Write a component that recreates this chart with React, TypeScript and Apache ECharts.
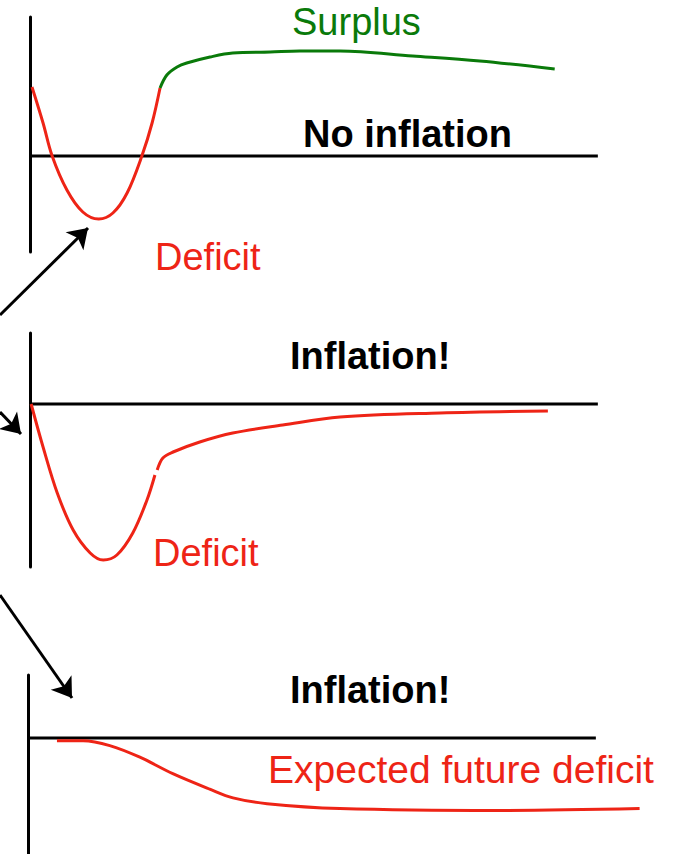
import React, { useEffect, useRef } from "react";
import * as echarts from "echarts";

// Panel 1: no inflation — deficit then surplus
const noInflationDeficit = [
  [0.35, 6.9], [2.3, 3.3], [3.9, 0], [6.5, -3.4], [9.3, -5.6], [12.1, -6.3],
  [14.6, -5.7], [17.1, -3.7], [19.7, 0], [21.5, 3.3], [22.9, 6.8],
];
const noInflationSurplus = [
  [22.9, 6.8], [24.1, 8.1], [25.9, 8.9], [27.6, 9.3], [31.7, 9.9], [35.7, 10.3],
  [42.3, 10.4], [47.5, 10.5], [54.6, 10.5], [67.4, 10.0], [79.2, 9.5], [92.4, 8.7],
];
// Panel 2: inflation — deficit without later surplus
const inflationDeficitFall = [
  [0.2, 0], [2.3, -4.3], [4.8, -8.9], [7.6, -12.6], [10.6, -14.9], [12.9, -15.6],
  [15.3, -15.1], [18.1, -12.9], [20.6, -9.6], [22.0, -7.1],
];
const inflationDeficitRecovery = [
  [22.4, -6.6], [23.4, -5.4], [25.2, -4.8], [29.9, -3.8], [35.7, -2.9],
  [44.5, -2.1], [54.6, -1.3], [72.2, -0.9], [91.2, -0.7],
];
// Panel 3: inflation — expected future deficit
const expectedFutureDeficit = [
  [5.1, -0.3], [9.7, -0.3], [14.4, -0.8], [19.7, -2.0], [25.5, -3.7], [32.0, -5.3],
  [36.1, -6.2], [42.1, -6.8], [54.9, -7.3], [82.6, -7.5], [107.7, -7.3],
];
const zeroLine = [[0, 0], [100, 0]];

const panelLabels = ["No inflation", "Inflation!", "Inflation!"];
const curveLabels = ["Surplus", "Deficit", "Deficit", "Expected future deficit"];

const RED = "#ee2416";
const GREEN = "#0a7a0a";
const FONT = '"Liberation Sans", Helvetica, Arial, sans-serif';
const FS = 38;

export default function App() {
  const ref = useRef<HTMLDivElement>(null);
  useEffect(() => {
    if (!ref.current) return;
    const chart = echarts.init(ref.current, undefined, { renderer: "svg" });

    const yRanges = [
      [-9.6, 13.9],
      [-16.3, 7.1],
      [-12, 6.5],
    ];
    const grids = [
      { left: 30, top: 17, width: 636, height: 235 },
      { left: 30, top: 333, width: 636, height: 234 },
      { left: 28, top: 675, width: 636, height: 185 },
      { left: 0, top: 0, width: 673, height: 854 },
    ];

    const curve = (idx: number, data: number[][], color: string) => ({
      type: "line",
      xAxisIndex: idx,
      yAxisIndex: idx,
      data,
      symbol: "none",
      smooth: 0.35,
      lineStyle: { color, width: 3 },
      z: 3,
    });
    const base = (idx: number) => ({
      type: "line",
      xAxisIndex: idx,
      yAxisIndex: idx,
      data: zeroLine,
      symbol: "none",
      lineStyle: { color: "#000", width: 3 },
      z: 2,
    });

    const text = (t: string, x: number, y: number, fill: string, bold = false, fs = FS) => ({
      type: "text",
      x,
      y,
      z: 10,
      style: {
        text: t,
        fill,
        fontSize: fs,
        fontFamily: FONT,
        fontWeight: bold ? "bold" : "normal",
        align: "left",
        verticalAlign: "middle",
      },
    });

    chart.setOption({
      animation: false,
      grid: grids,
      xAxis: [
        ...[0, 1, 2].map((i) => ({ type: "value", gridIndex: i, min: 0, max: 112, show: false })),
        { type: "value", gridIndex: 3, min: 0, max: 673, show: false },
      ],
      yAxis: [
        ...yRanges.map((r, i) => ({
          type: "value",
          gridIndex: i,
          min: r[0],
          max: r[1],
          position: "left",
          axisLine: { show: true, onZero: false, lineStyle: { color: "#000", width: 3 } },
          axisTick: { show: false },
          axisLabel: { show: false },
          splitLine: { show: false },
        })),
        { type: "value", gridIndex: 3, min: 0, max: 854, inverse: true, show: false },
      ],
      series: [
        base(0),
        curve(0, noInflationDeficit, RED),
        curve(0, noInflationSurplus, GREEN),
        base(1),
        curve(1, inflationDeficitFall, RED),
        curve(1, inflationDeficitRecovery, RED),
        base(2),
        curve(2, expectedFutureDeficit, RED),
        {
          type: "lines",
          coordinateSystem: "cartesian2d",
          xAxisIndex: 3,
          yAxisIndex: 3,
          symbol: ["none", "arrow"],
          symbolSize: [17, 19],
          lineStyle: { color: "#000", width: 3, opacity: 1 },
          data: [
            { coords: [[0, 315], [88, 228]] },
            { coords: [[0, 412], [21, 434]] },
            { coords: [[0, 595], [72, 698]] },
          ],
          z: 4,
        },
      ],
      graphic: [
        text(curveLabels[0], 292, 22, GREEN),
        text(panelLabels[0], 303, 134, "#000", true),
        text(curveLabels[1], 155, 257, RED),
        text(panelLabels[1], 290, 356, "#000", true),
        text(curveLabels[2], 153, 553, RED),
        text(panelLabels[2], 290, 690, "#000", true),
        text(curveLabels[3], 268, 769, RED, false, 39),
      ],
    });
    return () => chart.dispose();
  }, []);
  return (
    <div
      ref={ref}
      style={{ position: "fixed", left: 0, top: 0, width: 673, height: 854, background: "#fff" }}
    />
  );
}
